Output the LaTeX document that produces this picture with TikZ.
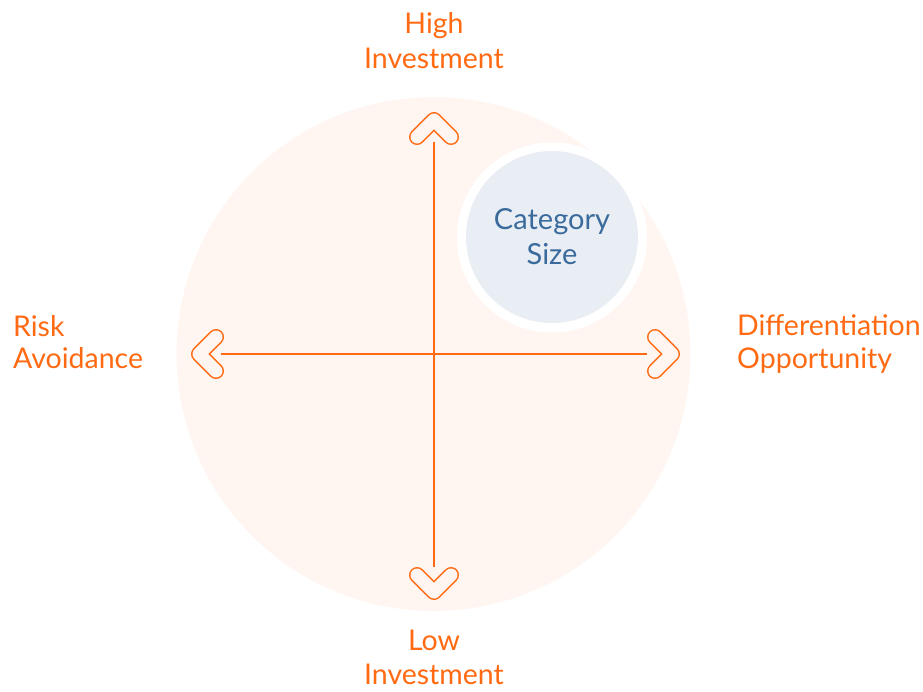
\documentclass[tikz,border=0pt]{standalone}
\usepackage{fontspec}
\setmainfont{Lato}
\definecolor{org}{HTML}{FF6A13}
\definecolor{bgpink}{HTML}{FFF6F2}
\definecolor{catfill}{HTML}{E9EEF5}
\definecolor{cattext}{HTML}{3A6B9C}
\tikzset{
  lbl/.style={text=org, font=\fontsize{28.5}{28.5}\selectfont, inner sep=0pt, anchor=base},
  cat/.style={text=cattext, font=\fontsize{29}{29}\selectfont, inner sep=0pt, anchor=base},
  axisline/.style={draw=org, line width=1.5pt},
  chevout/.style={draw=org, line width=16pt, line cap=round, line join=round},
  chevin/.style={draw=bgpink, line width=13pt, line cap=round, line join=round}
}
\begin{document}
\begin{tikzpicture}[x=1pt,y=-1pt]
\useasboundingbox (0,0) rectangle (923,691);
\fill[bgpink] (433.5,354) circle (257);
\fill[white] (552,237.5) circle (95);
\fill[catfill] (552,237) circle (86);
% axes
\coordinate (T) at (434,142);
\coordinate (B) at (434,567);
\coordinate (L) at (221,354);
\coordinate (R) at (647,354);
\draw[axisline] (T) -- (B);
\draw[axisline] (L) -- (R);
% chevrons
\foreach \p in {{(417,137)--(434,120)--(451,137)},{(417,575)--(434,592)--(451,575)},{(216,337)--(199,354)--(216,371)},{(655,337)--(672,354)--(655,371)}}{
  \draw[chevout] \p;
  \draw[chevin] \p;
}
% labels
\node[lbl] (h1) at (434,33) {High};
\node[lbl] (h2) at (434,68) {Investment};
\node[lbl] (l1) at (434,650) {Low};
\node[lbl] (l2) at (434,684) {Investment};
\node[lbl, anchor=base west] (r1) at (13,336) {Risk};
\node[lbl, anchor=base west] (r2) at (13,368) {Avoidance};
\node[lbl, anchor=base west] (d1) at (737,335) {Differentiation};
\node[lbl, anchor=base west] (d2) at (737,368) {Opportunity};
\node[cat] (c1) at (552,229) {Category};
\node[cat] (c2) at (552,264) {Size};
\end{tikzpicture}
\end{document}
